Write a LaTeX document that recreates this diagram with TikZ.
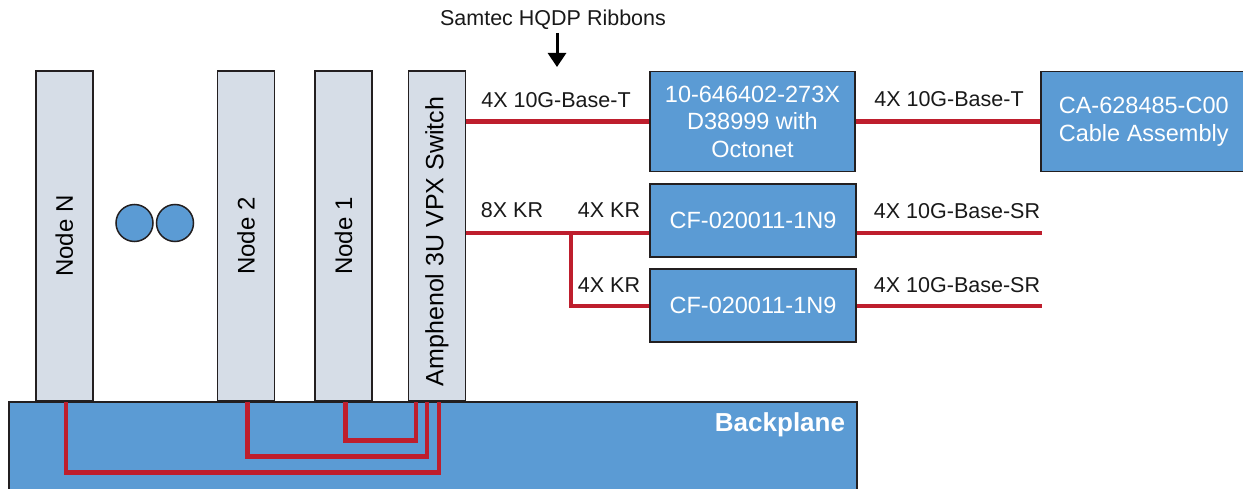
\documentclass[tikz,border=0pt]{standalone}
\usepackage{fontspec}
\usepackage{graphicx}
\setmainfont{Liberation Sans}
\usetikzlibrary{arrows.meta,calc}
\definecolor{bpblue}{HTML}{5B9BD4}
\definecolor{cardgray}{HTML}{D6DDE7}
\definecolor{edgegray}{HTML}{231F20}
\definecolor{wirered}{HTML}{BE1E2D}
\begin{document}
\begin{tikzpicture}[x=1pt,y=-1pt,
  every node/.style={font=\fontsize{21.5}{27}\selectfont, inner sep=0pt},
  card/.style={draw=edgegray, line width=1.5pt, fill=cardgray, minimum width=57pt, minimum height=330pt, font=\fontsize{24}{28}\selectfont},
  bluebox/.style={draw=edgegray, line width=1.5pt, fill=bpblue, text=white, align=center, font=\fontsize{23.5}{27.5}\selectfont},
  wire/.style={draw=wirered, line width=4.6pt},
  lbl/.style={text=black!90}]
\useasboundingbox (0,0) rectangle (1243,489);
% backplane
\node[bluebox, minimum width=848pt, minimum height=100pt, anchor=north west] (bp) at (8,401) {};
\node[text=white, font=\fontsize{26}{30}\selectfont\bfseries] (bpl) at (780,425) {Backplane};
% cards
\node[card] (nN) at (64.25,236) {\rotatebox{90}{Node N}};
\node[card] (n2) at (246,236) {\rotatebox{90}{Node 2}};
\node[card] (n1) at (343.5,236) {\rotatebox{90}{Node 1}};
\node[card, font=\fontsize{25}{28}\selectfont] (sw) at (437,236) {\rotatebox{90}{Amphenol 3U VPX Switch\hspace*{11pt}}};
% dots
\node[draw=edgegray, line width=1.5pt, fill=bpblue, circle, minimum size=37pt] (d1) at (134.5,223) {};
\node[draw=edgegray, line width=1.5pt, fill=bpblue, circle, minimum size=37pt] (d2) at (175,223) {};
% backplane wires
\draw[wire] ([xshift=1.75pt]nN.south) -- ++(0,71) -| ([xshift=2pt]sw.south);
\draw[wire] ([xshift=1.7pt]n2.south) -- ++(0,55) -| ([xshift=-10pt]sw.south);
\draw[wire] ([xshift=2.2pt]n1.south) -- ++(0,39) -| ([xshift=-21pt]sw.south);
% boxes
\node[bluebox, minimum width=205pt, minimum height=100pt] (b1) at (752.5,121.5) {10-646402-273X\\D38999 with\\Octonet};
\node[bluebox, minimum width=206pt, minimum height=100pt, anchor=west, font=\fontsize{23.5}{28.5}\selectfont] (ca) at (1040,121.5) {CA-628485-C00\\Cable Assembly};
\node[bluebox, minimum width=206pt, minimum height=73pt] (cf1) at (753,220.5) {CF-020011-1N9};
\node[bluebox, minimum width=206pt, minimum height=73pt] (cf2) at (753,305.5) {CF-020011-1N9};
% top annotation
\node[lbl] (sam) at (553,20) {Samtec HQDP Ribbons};
\coordinate (tip) at (557,67);
\draw[line width=3pt, -{Triangle[width=18pt,length=14pt]}] (tip |- 0,33) -- (tip);
% wires
\draw[wire] (sw.east |- b1.west) -- (b1.west);
\draw[wire] (b1.east) -- (ca.west);
\coordinate (br) at (571,233);
\draw[wire] (sw.east |- br) -- (br -| cf1.west);
\draw[wire] (br) |- (cf2.west |- 0,306);
\coordinate (e1) at (1042,233);
\coordinate (e2) at (1042,306);
\draw[wire] (cf1.east |- e1) -- (e1);
\draw[wire] (cf2.east |- e2) -- (e2);
% labels
\node[lbl] (l1) at (556,100) {4X 10G-Base-T};
\node[lbl] (l2) at (949,99) {4X 10G-Base-T};
\node[lbl] (l3) at (512,210) {8X KR};
\node[lbl] (l4) at (609,210) {4X KR};
\node[lbl] (l5) at (609,285) {4X KR};
\node[lbl] (l6) at (957,211) {4X 10G-Base-SR};
\node[lbl] (l7) at (957,285) {4X 10G-Base-SR};
\end{tikzpicture}
\end{document}
